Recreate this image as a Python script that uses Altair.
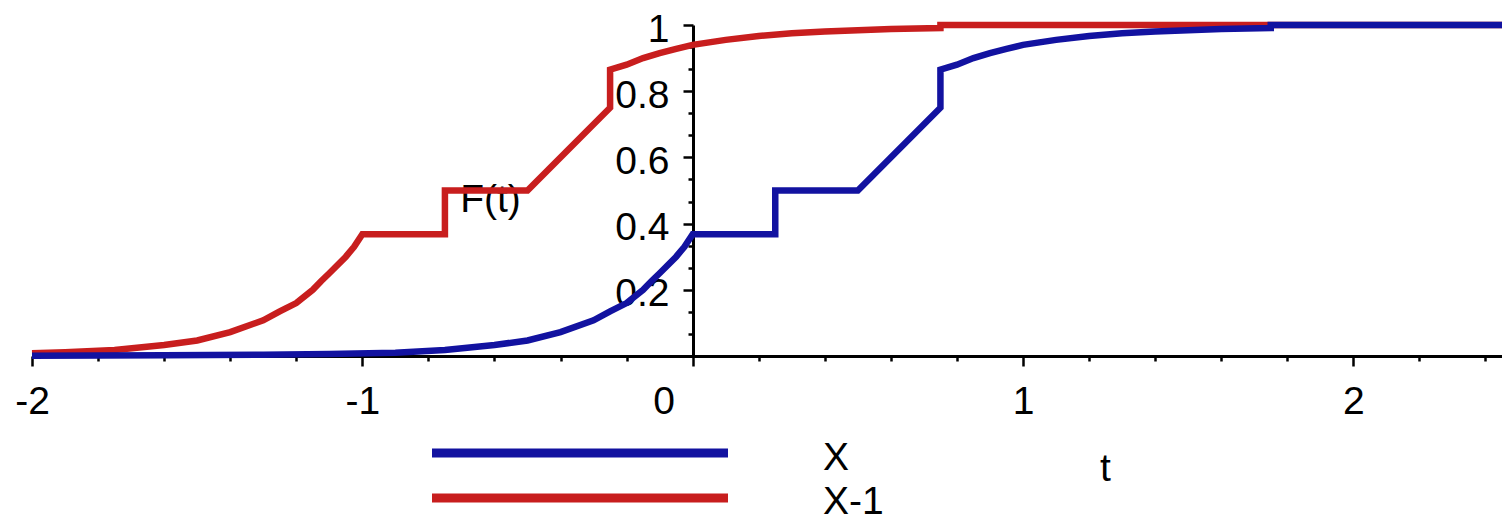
import altair as alt
import pandas as pd

FONT = "Liberation Sans"

# Series names and colours
series_names = ["X", "X-1"]
series_colors = ["#1212A0", "#C81E1E"]

# F(t) of X (blue)
x_t = [-2.0, -1.6, -1.3, -1.1, -0.9, -0.75, -0.6, -0.5, -0.4, -0.3, -0.25, -0.2, -0.15, -0.125, -0.1,
       -0.05, -0.025, 0.0,
       0.25, 0.25, 0.5, 0.75, 0.75, 0.8, 0.85, 0.9, 0.95, 1.0, 1.1, 1.2, 1.3, 1.4, 1.5, 1.6,
       1.75, 1.75, 2.45]
x_F = [0.001, 0.002, 0.004, 0.006, 0.010, 0.018, 0.033, 0.047, 0.072, 0.108, 0.135, 0.160, 0.200, 0.226, 0.250,
       0.300, 0.330, 0.368,
       0.368, 0.5, 0.5, 0.75, 0.865, 0.88, 0.90, 0.915, 0.928, 0.94, 0.955, 0.967, 0.975, 0.98, 0.984, 0.988,
       0.991, 1.0, 1.0]

# F(t) of X-1 (red)
r_t = [-2.0, -1.9, -1.75, -1.6, -1.5, -1.4, -1.3, -1.25, -1.2, -1.15, -1.125, -1.1, -1.05, -1.025, -1.0,
       -0.75, -0.75, -0.5,
       -0.25, -0.25, -0.2, -0.15, -0.1, -0.05, 0.0, 0.1, 0.2, 0.3, 0.4, 0.5, 0.6, 0.75, 0.75, 2.45]
r_F = [0.008, 0.011, 0.018, 0.033, 0.047, 0.072, 0.108, 0.135, 0.160, 0.200, 0.226, 0.250, 0.300, 0.330, 0.368,
       0.368, 0.5, 0.5,
       0.75, 0.865, 0.88, 0.90, 0.915, 0.928, 0.94, 0.955, 0.967, 0.975, 0.98, 0.984, 0.988, 0.991, 1.0, 1.0]

# Tick positions
x_ticks = [-2.0, -1.8, -1.6, -1.4, -1.2, -1.0, -0.8, -0.6, -0.4, -0.2, 0.0, 0.2, 0.4, 0.6, 0.8,
           1.0, 1.2, 1.4, 1.6, 1.8, 2.0, 2.2, 2.4]
y_ticks = [0.0, 0.0667, 0.1333, 0.2, 0.2667, 0.3333, 0.4, 0.4667, 0.5333, 0.6, 0.6667, 0.7333,
           0.8, 0.8667, 0.9333, 1.0]

rows = []
for i, (t, f) in enumerate(zip(x_t, x_F)):
    rows.append({"t": t, "F": f, "series": "X", "idx": i})
for i, (t, f) in enumerate(zip(r_t, r_F)):
    rows.append({"t": t, "F": f, "series": "X-1", "idx": i})
df = pd.DataFrame(rows)

color_scale = alt.Scale(domain=series_names, range=series_colors)

x_major = "abs(datum.value - round(datum.value)) < 0.001"
y_major = "abs(datum.value * 5 - round(datum.value * 5)) < 0.001"

x_enc = alt.X(
    "t:Q",
    scale=alt.Scale(domain=[-2, 2.45], nice=False, zero=False),
    axis=alt.Axis(
        values=x_ticks,
        labelExpr=f"{x_major} ? '' + round(datum.value) : ''",
        tickSize={"condition": {"test": x_major, "value": 10}, "value": 5},
        labelOffset={"condition": {"test": "datum.value == 0", "value": -29}, "value": 0},
        labelFontSize=39, labelFont=FONT, labelColor="black", labelPadding=16,
        labelFlush=False, labelOverlap=False,
        domainColor="black", domainWidth=3, tickColor="black", tickWidth=2.5, grid=False,
        title="t", titleX=1073, titleY=124, titleAlign="center", titleBaseline="alphabetic",
        titleFontSize=39, titleFont=FONT, titleFontWeight="normal", titleColor="black",
    ),
)
y_enc = alt.Y(
    "F:Q",
    scale=alt.Scale(domain=[0, 1], nice=False),
    axis=alt.Axis(
        values=y_ticks,
        offset=-661,
        labelExpr=f"{y_major} && datum.value > 0 ? (datum.value == 1 ? '1' : format(datum.value, '.1f')) : ''",
        tickSize={"condition": {"test": y_major, "value": 10}, "value": 5},
        labelOffset=4,
        labelFontSize=39, labelFont=FONT, labelColor="black", labelPadding=14,
        labelFlush=False, labelOverlap=False,
        domainColor="black", domainWidth=3, tickColor="black", tickWidth=2.5, grid=False,
        title="F(t)", titleAngle=0, titleX=-203, titleY=186, titleAlign="center",
        titleBaseline="alphabetic", titleFontSize=39, titleFont=FONT, titleFontWeight="normal",
        titleColor="black",
    ),
)
color_enc = alt.Color("series:N", scale=color_scale, legend=None)

base = alt.Chart(df)
red_line = base.transform_filter(alt.datum.series == "X-1").mark_line(
    strokeWidth=6.5, strokeJoin="miter"
).encode(x=x_enc, y=y_enc, color=color_enc, order="idx:Q")
blue_line = base.transform_filter(alt.datum.series == "X").mark_line(
    strokeWidth=6.5, strokeJoin="miter"
).encode(x=x_enc, y=y_enc, color=color_enc, order="idx:Q")

leg = alt.Chart(pd.DataFrame({"series": series_names}))
leg_blue = leg.transform_filter(alt.datum.series == "X").mark_rule(strokeWidth=9).encode(
    x=alt.value(400), x2=alt.value(696), y=alt.value(428), color=color_enc
)
leg_red = leg.transform_filter(alt.datum.series == "X-1").mark_rule(strokeWidth=9).encode(
    x=alt.value(400), x2=alt.value(696), y=alt.value(473), color=color_enc
)
txt_blue = leg.transform_filter(alt.datum.series == "X").mark_text(
    align="left", baseline="alphabetic", fontSize=39, font=FONT, color="black"
).encode(x=alt.value(791), y=alt.value(445), text="series:N")
txt_red = leg.transform_filter(alt.datum.series == "X-1").mark_text(
    align="left", baseline="alphabetic", fontSize=39, font=FONT, color="black"
).encode(x=alt.value(791), y=alt.value(489), text="series:N")

chart = alt.layer(red_line, blue_line, leg_blue, leg_red, txt_blue, txt_red).properties(
    width=1470,
    height=331,
    padding={"left": 24, "top": 17, "right": 0, "bottom": 172},
    autosize=alt.AutoSizeParams(type="none"),
).configure_view(stroke=None)

chart.save("out.html", embed_options={"renderer": "svg", "actions": False})
